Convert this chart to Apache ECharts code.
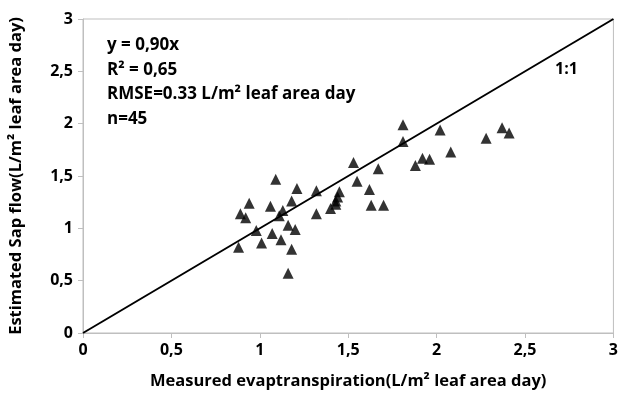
<!DOCTYPE html>
<html><head><meta charset="utf-8">
<script src="https://cdn.jsdelivr.net/npm/echarts@6/dist/echarts.min.js"></script>
<style>html,body{margin:0;padding:0;background:#fff}#c{width:621px;height:397px}</style>
</head><body><div id="c"></div>
<script>
const measuredET = [0.88,0.89,0.92,0.94,0.98,1.01,1.06,1.07,1.09,1.11,1.12,1.13,1.16,1.16,1.18,1.18,1.20,1.21,1.32,1.32,1.40,1.43,1.43,1.44,1.45,1.53,1.55,1.62,1.63,1.67,1.70,1.81,1.81,1.88,1.92,1.96,2.02,2.08,2.28,2.37,2.41];
const estimatedSap = [0.82,1.14,1.10,1.24,0.98,0.86,1.21,0.95,1.47,1.12,0.89,1.17,1.03,0.57,1.26,0.80,0.99,1.38,1.36,1.14,1.19,1.23,1.26,1.30,1.35,1.63,1.45,1.37,1.22,1.57,1.22,1.99,1.83,1.60,1.67,1.66,1.94,1.73,1.86,1.96,1.91];
const oneToOneX = [0, 3];
const oneToOneY = [0, 3];
const annotationLines = ['y = 0,90x', 'R² = 0,65', 'RMSE=0.33 L/m² leaf area day', 'n=45'];

const FONT = '"Open Sans"';
const chart = echarts.init(document.getElementById('c'), null, {renderer:'canvas'});
const fmt = v => String(v).replace('.', ',');
const axisCommon = {
  min: 0, max: 3, interval: 0.5,
  axisLine: {show: true, lineStyle: {color: '#bfbfbf', width: 1}},
  axisTick: {show: true, inside: false, length: 5, lineStyle: {color: '#bfbfbf'}},
  splitLine: {show: false},
  axisLabel: {formatter: fmt, color: '#000', fontFamily: FONT, fontWeight: 'bold', fontSize: 16},
  nameTextStyle: {color: '#000', fontFamily: FONT, fontWeight: 'bold', fontSize: 16.5}
};
chart.setOption({
  animation: false,
  grid: {left: 81, right: 4, top: 19, bottom: 64, show: true, borderColor: '#bfbfbf', borderWidth: 1},
  xAxis: Object.assign({}, axisCommon, {
    type: 'value', name: 'Measured evaptranspiration(L/m² leaf area day)',
    nameLocation: 'middle', nameGap: 40,
    axisLabel: Object.assign({}, axisCommon.axisLabel, {margin: 9})
  }),
  yAxis: Object.assign({}, axisCommon, {
    type: 'value', name: 'Estimated Sap flow(L/m² leaf area day)',
    nameLocation: 'middle', nameGap: 58,
    axisLabel: Object.assign({}, axisCommon.axisLabel, {margin: 10})
  }),
  series: [
    {type: 'line', data: oneToOneX.map((x, i) => [x, oneToOneY[i]]), symbol: 'none',
     lineStyle: {color: '#000', width: 2}, silent: true},
    {type: 'scatter', data: measuredET.map((x, i) => [x, estimatedSap[i]]),
     symbol: 'triangle', symbolSize: 11, itemStyle: {color: '#000'}}
  ],
  graphic: [
    {type: 'text', left: 107, top: 33, style: {text: annotationLines.join('\n'), font: 'bold 17px ' + FONT, fill: '#000', lineHeight: 24.5}},
    {type: 'text', left: 555, top: 61, style: {text: '1:1', font: 'bold 16px ' + FONT, fill: '#000'}}
  ]
});
</script>
</body></html>
